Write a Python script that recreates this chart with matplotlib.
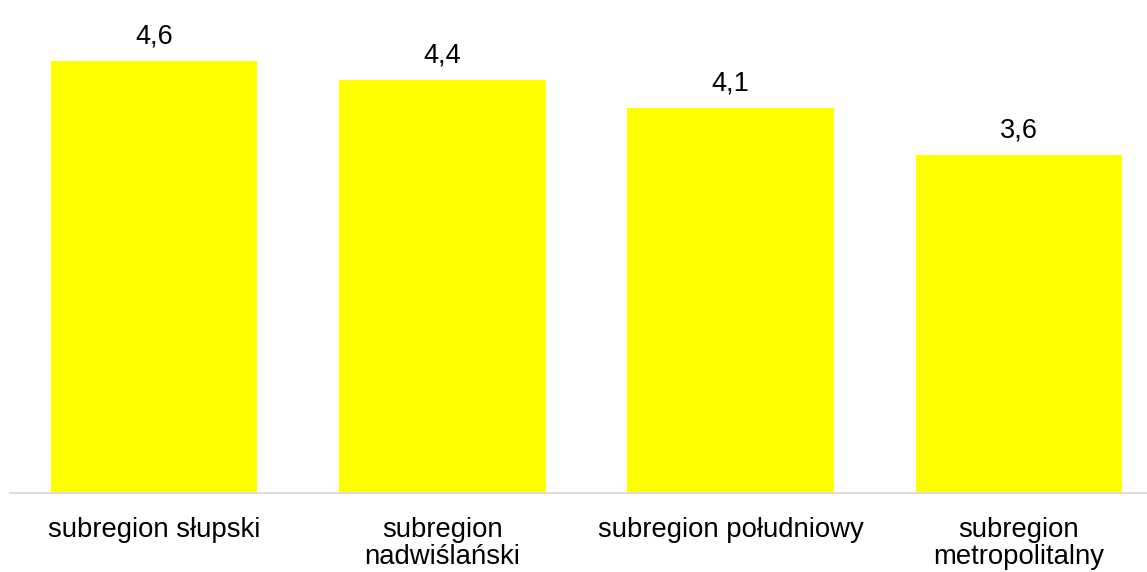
import matplotlib
matplotlib.use("Agg")
import matplotlib.pyplot as plt

# Data
categories = ["subregion słupski", "subregion\nnadwiślański",
              "subregion południowy", "subregion\nmetropolitalny"]
values = [4.6, 4.4, 4.1, 3.6]
value_labels = ["4,6", "4,4", "4,1", "3,6"]

plt.rcParams["font.family"] = ["Liberation Sans", "DejaVu Sans"]

fig = plt.figure(figsize=(11.47, 5.72), dpi=100)
ax = fig.add_axes([0.00898, 0.1376, 1.0047, 0.8208])

x = list(range(len(categories)))
bars = ax.bar(x, values, width=0.716, color="#FFFF00", zorder=2)

for rect, lab in zip(bars, value_labels):
    ax.annotate(lab, (rect.get_x() + rect.get_width() / 2, rect.get_height()),
                xytext=(0, 12.7), textcoords="offset points",
                ha="center", va="baseline", fontsize=19.5, color="#000000")

ax.set_xlim(-0.5, 3.5)
ax.set_ylim(0, 5)
ax.set_xticks(x)
ax.set_xticklabels(categories, fontsize=19.8, color="#000000",
                   multialignment="center", linespacing=1.05)
ax.tick_params(axis="x", length=0, pad=17)
ax.set_yticks([])

for side in ("top", "right", "left"):
    ax.spines[side].set_visible(False)
ax.spines["bottom"].set_color("#D9D9D9")
ax.spines["bottom"].set_linewidth(1.25)

fig.savefig("out.png", dpi=100)
